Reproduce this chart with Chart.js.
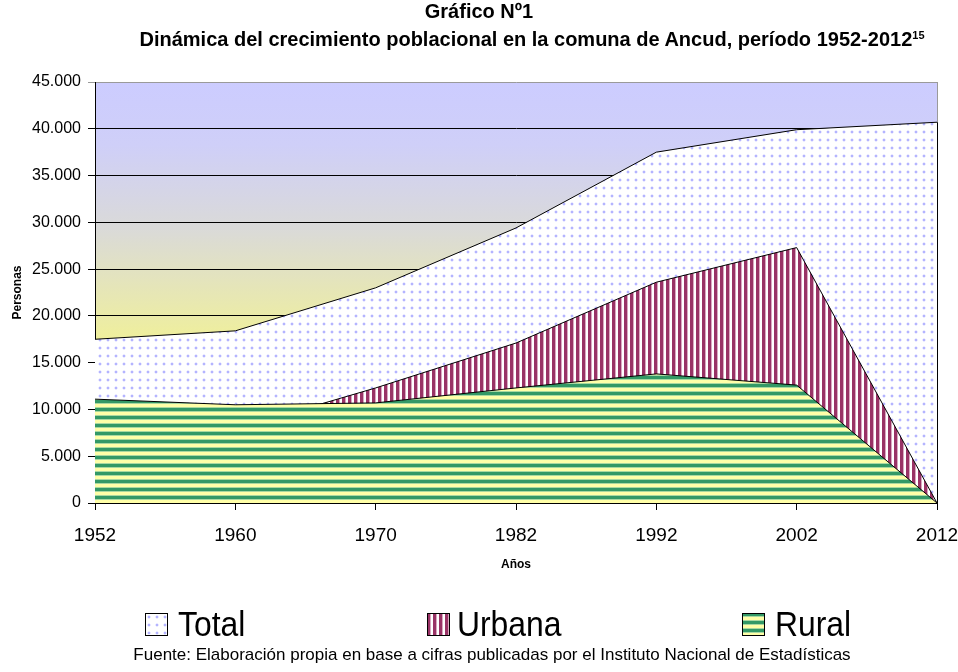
<!DOCTYPE html>
<html>
<head>
<meta charset="utf-8">
<script src="https://cdn.jsdelivr.net/npm/chart.js@4"></script>
<style>
    body { margin: 0; background: #fff; }
    #wrap { position: relative; width: 958px; height: 672px; overflow: hidden;
            font-family: "Liberation Sans Narrow", "Liberation Sans", Arial, sans-serif; color: #000; }
    #grafico { position: absolute; left: 0; top: 0; }
    .titulo { position: absolute; text-align: center; font-weight: bold; font-size: 20px; white-space: nowrap; }
    .titulo sup { font-size: 11px; vertical-align: 7px; }
    .leyenda { position: absolute; top: 604px; font-size: 35px; white-space: nowrap; line-height: 40px; }
    .leyenda canvas { position: absolute; left: 0; top: 9px; }
    .leyenda span { position: absolute; top: 0; transform: scaleX(0.91); transform-origin: 0 0; }
    #fuente { position: absolute; left: 0; width: 984px; top: 645px; text-align: center; font-size: 17px; white-space: nowrap; }
</style>
</head>
<body>
<div id="wrap">
    <canvas id="grafico" width="958" height="672"></canvas>
    <div class="titulo" style="top:0px; left:0; width:958px;">Gráfico Nº1</div>
    <div class="titulo" style="top:28px; left:0; width:1064px;">Dinámica del crecimiento poblacional en la comuna de Ancud, período 1952-2012<sup>15</sup></div>
    <div class="leyenda" style="left:145px;"><canvas id="ley-total" width="23" height="23"></canvas><span style="left:33px;">Total</span></div>
    <div class="leyenda" style="left:427px;"><canvas id="ley-urbana" width="23" height="23"></canvas><span style="left:30px;">Urbana</span></div>
    <div class="leyenda" style="left:742px;"><canvas id="ley-rural" width="23" height="23"></canvas><span style="left:33px;">Rural</span></div>
    <div id="fuente">Fuente: Elaboración propia en base a cifras publicadas por el Instituto Nacional de Estadísticas</div>
</div>
<script>
// datos censales
const anios = ['1952', '1960', '1970', '1982', '1992', '2002', '2012'];
const total = [17500, 18400, 23000, 29400, 37500, 39900, 40700];
const urbana = [6400, 7900, 12300, 17100, 23600, 27300, 0];
const rural = [11100, 10500, 10700, 12300, 13800, 12600, 0];
const yMax = 45000;
const yPaso = 5000;

// tramas de relleno
function trama(w, h, dibujar) {
    const c = document.createElement('canvas');
    c.width = w;
    c.height = h;
    dibujar(c.getContext('2d'));
    return c;
}

const tramaTotal = trama(8, 8, ctx => {
    ctx.fillStyle = '#ffffff';
    ctx.fillRect(0, 0, 8, 8);
    ctx.fillStyle = '#ebebff';
    ctx.fillRect(2, 3, 4, 2);
    ctx.fillRect(3, 2, 2, 4);
    ctx.fillStyle = '#b4b4ff';
    ctx.fillRect(3, 3, 2, 2);
});

const tramaUrbana = trama(6, 1, ctx => {
    ctx.fillStyle = '#ffffff';
    ctx.fillRect(0, 0, 6, 1);
    ctx.fillStyle = '#993366';
    ctx.fillRect(0, 0, 3, 1);
    ctx.fillStyle = '#d9a9c0';
    ctx.fillRect(3, 0, 1, 1);
});

const tramaRural = trama(1, 8, ctx => {
    ctx.fillStyle = '#ffffa8';
    ctx.fillRect(0, 0, 1, 8);
    ctx.fillStyle = '#339966';
    ctx.fillRect(0, 0, 1, 3);
    ctx.fillStyle = '#a9d8a0';
    ctx.fillRect(0, 3, 1, 1);
    ctx.fillRect(0, 7, 1, 1);
});

// muestras de la leyenda
function muestra(id, patron) {
    const c = document.getElementById(id);
    const ctx = c.getContext('2d');
    ctx.fillStyle = ctx.createPattern(patron, 'repeat');
    ctx.fillRect(0, 0, c.width, c.height);
    ctx.strokeStyle = '#000';
    ctx.lineWidth = 1;
    ctx.strokeRect(0.5, 0.5, c.width - 1, c.height - 1);
}
muestra('ley-total', tramaTotal);
muestra('ley-urbana', tramaUrbana);
muestra('ley-rural', tramaRural);

const ctx = document.getElementById('grafico').getContext('2d');
const pTotal = ctx.createPattern(tramaTotal, 'repeat');
const pUrbana = ctx.createPattern(tramaUrbana, 'repeat');
const pRural = ctx.createPattern(tramaRural, 'repeat');

// fondo degradado del área de trazado
const fondoPlugin = {
    id: 'fondo',
    beforeDraw(chart) {
        const { ctx, chartArea: a } = chart;
        const g = ctx.createLinearGradient(0, a.top, 0, a.bottom);
        g.addColorStop(0, '#ccccff');
        g.addColorStop(0.15, '#cfcff8');
        g.addColorStop(0.35, '#dadad8');
        g.addColorStop(0.62, '#f0f09a');
        g.addColorStop(1, '#ffff99');
        ctx.save();
        ctx.fillStyle = g;
        ctx.fillRect(a.left, a.top, a.right - a.left, a.bottom - a.top);
        ctx.restore();
    },
    afterDatasetsDraw(chart) {
        const { ctx, chartArea: a } = chart;
        const yTot = chart.scales.y.getPixelForValue(total[total.length - 1]);
        ctx.save();
        ctx.lineWidth = 1;
        ctx.strokeStyle = '#9a9a9a';
        ctx.beginPath();
        ctx.moveTo(a.right + 0.5, a.top);
        ctx.lineTo(a.right + 0.5, yTot);
        ctx.stroke();
        ctx.strokeStyle = '#000';
        ctx.beginPath();
        ctx.moveTo(a.right + 0.5, yTot);
        ctx.lineTo(a.right + 0.5, a.bottom);
        ctx.stroke();
        ctx.restore();
    }
};

const fuente = '"Liberation Sans Narrow", "Liberation Sans", Arial, sans-serif';

new Chart(ctx, {
    type: 'line',
    data: {
        labels: anios,
        datasets: [
            { label: 'Rural', data: rural, backgroundColor: pRural, borderColor: '#000', borderWidth: 1, fill: 'origin', pointRadius: 0, tension: 0 },
            { label: 'Urbana', data: urbana, backgroundColor: pUrbana, borderColor: '#000', borderWidth: 1, fill: 'origin', pointRadius: 0, tension: 0 },
            { label: 'Total', data: total, backgroundColor: pTotal, borderColor: '#000', borderWidth: 1, fill: 'origin', pointRadius: 0, tension: 0 }
        ]
    },
    options: {
        responsive: false,
        animation: false,
        layout: { padding: { top: 82, left: 0, right: 21, bottom: 94 } },
        plugins: {
            legend: { display: false },
            title: { display: false },
            tooltip: { enabled: false }
        },
        scales: {
            x: {
                offset: false,
                afterFit(scale) {
                    scale.height = 75;
                    scale.paddingLeft = 0;
                    scale.paddingRight = 0;
                },
                grid: { drawOnChartArea: false, drawTicks: true, tickLength: 7, color: '#000' },
                border: { color: '#000', width: 1 },
                ticks: { color: '#000', padding: 14, maxRotation: 0, font: { family: fuente, size: 19 } },
                title: { display: true, text: 'Años', color: '#000', padding: { top: 4, bottom: 6 }, font: { family: fuente, size: 12, weight: 'bold' } }
            },
            y: {
                min: 0,
                max: yMax,
                afterFit(scale) { scale.width = 95; },
                grid: {
                    color: c => (c.tick && c.tick.value === yMax ? '#9a9a9a' : '#000'),
                    tickLength: 7
                },
                border: { color: '#000', width: 1 },
                ticks: {
                    stepSize: yPaso,
                    color: '#000',
                    padding: 7,
                    font: { family: fuente, size: 16 },
                    callback: v => v.toLocaleString('de-DE')
                },
                title: { display: true, text: 'Personas', color: '#000', padding: { top: 10, bottom: 4 }, font: { family: fuente, size: 12, weight: 'bold' } }
            }
        }
    },
    plugins: [fondoPlugin]
});
</script>
</body>
</html>
